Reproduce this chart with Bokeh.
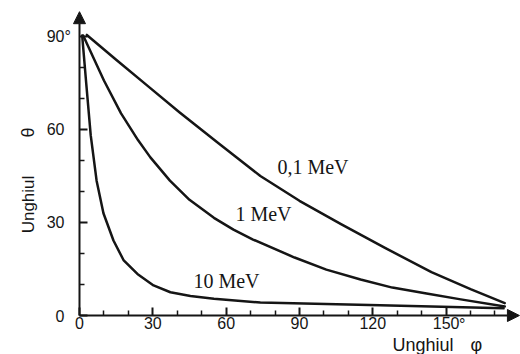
from math import pi

from bokeh.plotting import figure
from bokeh.models import FixedTicker, Arrow, NormalHead, Label, Range1d, LinearAxis
from bokeh.embed import file_html
from bokeh.resources import INLINE

# ---- data (phi = scattering angle of photon, theta = electron angle) ----
phi_01 = [3, 15, 28, 41, 57, 74, 90, 107, 125, 144, 160, 174]
theta_01 = [90.5, 82.5, 74.0, 65.5, 55.5, 45.0, 37.0, 29.5, 21.8, 14.0, 8.5, 4.0]

phi_1 = [1.5, 10, 17, 24, 29, 37, 45, 55, 63, 71, 88, 101, 115, 128, 142, 156, 174]
theta_1 = [90.3, 75.8, 65.2, 56.5, 51.0, 43.5, 37.3, 31.5, 27.7, 24.5, 18.7, 14.8, 11.6, 9.0, 7.1, 5.2, 2.9]

phi_10 = [1.1, 2.8, 4.6, 7.0, 9.8, 13.9, 18, 23.7, 30.3, 37.2, 45.4, 55, 74, 123, 173.5]
theta_10 = [90.3, 74.5, 58.1, 43.5, 33.0, 24.2, 17.9, 13.4, 9.7, 7.5, 6.3, 5.4, 4.2, 3.3, 2.3]

curve_labels = ["0,1 MeV", "1 MeV", "10 MeV"]

x_ticks = [0, 30, 60, 90, 120, 150]
x_minor = [10, 20, 40, 50, 70, 80, 100, 110, 130, 140, 160, 170]
y_ticks = [0, 30, 60, 90]
y_minor = [10, 20, 40, 50, 70, 80]

INK = "#151515"
SANS = "Liberation Sans"
SERIF = "Liberation Serif"

p = figure(width=520, height=354,
           x_range=Range1d(-32.32, 180.44), y_range=Range1d(-12.58, 101.61),
           output_backend="svg", toolbar_location=None,
           x_axis_location=None, y_axis_location=None,
           min_border_left=0, min_border_right=0,
           min_border_top=0, min_border_bottom=0)
p.title.visible = False
p.grid.visible = False
p.outline_line_color = None
p.background_fill_color = "white"
p.border_fill_color = "white"

xax = LinearAxis(fixed_location=0)
yax = LinearAxis(fixed_location=0)
for ax, ticks, minor in ((xax, x_ticks, x_minor), (yax, y_ticks, y_minor)):
    ax.ticker = FixedTicker(ticks=ticks, minor_ticks=minor)
    ax.axis_line_color = None
    ax.major_tick_in = 8
    ax.major_tick_out = 0
    ax.minor_tick_in = 5
    ax.minor_tick_out = 0
    ax.major_tick_line_color = INK
    ax.major_tick_line_width = 2
    ax.minor_tick_line_color = INK
    ax.minor_tick_line_width = 1.5
    ax.major_label_text_font = SANS
    ax.major_label_text_font_size = "16px"
    ax.major_label_text_color = INK
xax.major_label_standoff = 1
yax.major_label_standoff = 15
p.add_layout(xax, "below")
p.add_layout(yax, "left")

# axes with arrow heads
p.add_layout(Arrow(end=NormalHead(size=12, fill_color=INK, line_color=INK),
                   x_start=0, y_start=0, x_end=180.0, y_end=0,
                   line_width=2, line_color=INK))
p.add_layout(Arrow(end=NormalHead(size=12, fill_color=INK, line_color=INK),
                   x_start=0, y_start=0, x_end=0, y_end=98.0,
                   line_width=2, line_color=INK))

# curves
for xs, ys in ((phi_01, theta_01), (phi_1, theta_1), (phi_10, theta_10)):
    p.line(xs, ys, line_width=2.5, line_color=INK, line_join="round", line_cap="round")

# curve labels
for (lx, ly), txt in zip(((81.0, 48.0), (63.8, 32.9), (46.6, 11.2)), curve_labels):
    p.add_layout(Label(x=lx, y=ly, text=txt, text_font=SERIF, text_font_size="20px",
                       text_color=INK, text_align="left", text_baseline="alphabetic"))

# degree signs on the end tick labels
p.add_layout(Label(x=-6.1, y=90, text="°", text_font=SANS, text_font_size="16px",
                   text_color=INK, text_align="left", text_baseline="middle"))
p.add_layout(Label(x=155.3, y=-0.3, text="°", text_font=SANS, text_font_size="16px",
                   text_color=INK, text_align="left", text_baseline="top"))

# axis titles
p.add_layout(Label(x=-21.0, y=26.5, text="Unghiul", angle=pi / 2, text_font=SANS,
                   text_font_size="17px", text_color=INK,
                   text_align="left", text_baseline="alphabetic"))
p.add_layout(Label(x=-21.0, y=57.4, text="θ", angle=pi / 2, text_font=SANS,
                   text_font_size="18px", text_color=INK,
                   text_align="left", text_baseline="alphabetic"))
p.add_layout(Label(x=128.1, y=-9.4, text="Unghiul", text_font=SANS,
                   text_font_size="18px", text_color=INK,
                   text_align="left", text_baseline="alphabetic"))
p.add_layout(Label(x=160.0, y=-9.4, text="φ", text_font=SANS,
                   text_font_size="18px", text_color=INK,
                   text_align="left", text_baseline="alphabetic"))

open("out.html", "w").write(file_html(p, INLINE))
